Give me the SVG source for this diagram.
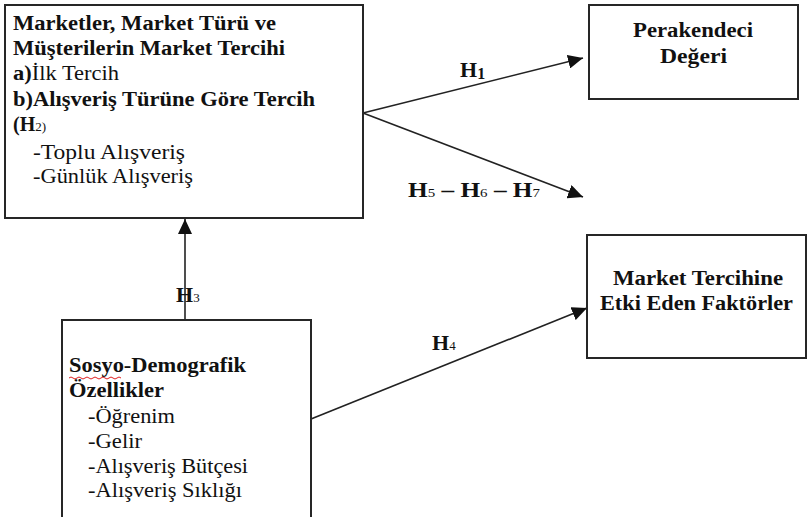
<svg xmlns="http://www.w3.org/2000/svg" width="808" height="517" viewBox="0 0 808 517">
<style>
.box{fill:#fff;stroke:#262626;stroke-width:2}
.t{font-family:'Liberation Serif','DejaVu Serif','Noto Serif','Times New Roman',Times,serif;font-size:20px;fill:#111}
.b{font-weight:bold}
.r{font-weight:normal}
.sub{font-size:13px;font-weight:normal}
.hl{font-size:22px;font-weight:bold}
.conn{stroke:#222;stroke-width:1.6;fill:none}
</style>
<defs>
<marker id="ah" markerUnits="userSpaceOnUse" markerWidth="16" markerHeight="14" refX="15" refY="7" orient="auto">
<path d="M0,0 L15,7 L0,14 z" fill="#111"/>
</marker>
</defs>
<rect width="808" height="517" fill="#fff"/>

<g id="connectors">
<line class="conn" x1="363" y1="113" x2="583" y2="58" marker-end="url(#ah)"/>
<line class="conn" x1="363" y1="113" x2="583" y2="197" marker-end="url(#ah)"/>
<line class="conn" x1="185" y1="320" x2="185" y2="219" marker-end="url(#ah)"/>
<line class="conn" x1="311" y1="419" x2="587" y2="308" marker-end="url(#ah)"/>
</g>

<g id="node-market">
<rect class="box" x="5" y="5" width="358" height="213"/>
<text class="t b" font-family="Liberation Serif, serif" x="13" y="30" textLength="263" lengthAdjust="spacingAndGlyphs">Marketler, Market Türü ve</text>
<text class="t b" font-family="Liberation Serif, serif" x="13" y="55" textLength="272" lengthAdjust="spacingAndGlyphs">Müşterilerin Market Tercihi</text>
<text class="t" font-family="Liberation Serif, serif" x="13" y="80" textLength="106" lengthAdjust="spacingAndGlyphs"><tspan class="b">a)</tspan><tspan class="r">İlk Tercih</tspan></text>
<text class="t b" font-family="Liberation Serif, serif" x="13" y="106" textLength="302" lengthAdjust="spacingAndGlyphs">b)Alışveriş Türüne Göre Tercih</text>
<text class="t b" font-family="Liberation Serif, serif" x="13" y="131">(H<tspan class="sub">2)</tspan></text>
<text class="t r" font-family="Liberation Serif, serif" x="33" y="159" textLength="152" lengthAdjust="spacingAndGlyphs">-Toplu Alışveriş</text>
<text class="t r" font-family="Liberation Serif, serif" x="33" y="183" textLength="160" lengthAdjust="spacingAndGlyphs">-Günlük Alışveriş</text>
</g>

<g id="node-perakendeci">
<rect class="box" x="589" y="5" width="209" height="94"/>
<text class="t b" font-family="Liberation Serif, serif" x="633" y="37" textLength="120" lengthAdjust="spacingAndGlyphs">Perakendeci</text>
<text class="t b" font-family="Liberation Serif, serif" x="660" y="63" textLength="67" lengthAdjust="spacingAndGlyphs">Değeri</text>
</g>

<g id="node-faktorler">
<rect class="box" x="587" y="235" width="219" height="123"/>
<text class="t b" font-family="Liberation Serif, serif" x="613" y="285" textLength="170" lengthAdjust="spacingAndGlyphs">Market Tercihine</text>
<text class="t b" font-family="Liberation Serif, serif" x="600" y="310" textLength="193" lengthAdjust="spacingAndGlyphs">Etki Eden Faktörler</text>
</g>

<g id="node-sosyo">
<rect class="box" x="62" y="320" width="249" height="215"/>
<text class="t b" font-family="Liberation Serif, serif" x="69" y="372" textLength="177" lengthAdjust="spacingAndGlyphs">Sosyo-Demografik</text>
<path d="M69,378 q2,-2 4,0 t4,0 t4,0 t4,0 t4,0 t4,0 t4,0 t4,0 t4,0 t4,0 t4,0 t4,0 t4,0" fill="none" stroke="#e02020" stroke-width="1"/>
<text class="t b" font-family="Liberation Serif, serif" x="69" y="397" textLength="95" lengthAdjust="spacingAndGlyphs">Özellikler</text>
<text class="t r" font-family="Liberation Serif, serif" x="88" y="423" textLength="87" lengthAdjust="spacingAndGlyphs">-Öğrenim</text>
<text class="t r" font-family="Liberation Serif, serif" x="88" y="448" textLength="54" lengthAdjust="spacingAndGlyphs">-Gelir</text>
<text class="t r" font-family="Liberation Serif, serif" x="88" y="473" textLength="160" lengthAdjust="spacingAndGlyphs">-Alışveriş Bütçesi</text>
<text class="t r" font-family="Liberation Serif, serif" x="88" y="497" textLength="154" lengthAdjust="spacingAndGlyphs">-Alışveriş Sıklığı</text>
</g>

<g id="labels">
<text class="t hl" font-family="Liberation Serif, serif" x="460" y="77">H<tspan font-size="16" dy="2">1</tspan></text>
<text class="t hl" font-family="Liberation Serif, serif" x="408" y="197" textLength="132" lengthAdjust="spacingAndGlyphs">H<tspan class="sub">5</tspan> – H<tspan class="sub">6</tspan> – H<tspan class="sub">7</tspan></text>
<text class="t hl" font-family="Liberation Serif, serif" x="176" y="302">H<tspan class="sub">3</tspan></text>
<text class="t hl" font-family="Liberation Serif, serif" x="432" y="350">H<tspan class="sub">4</tspan></text>
</g>
</svg>
